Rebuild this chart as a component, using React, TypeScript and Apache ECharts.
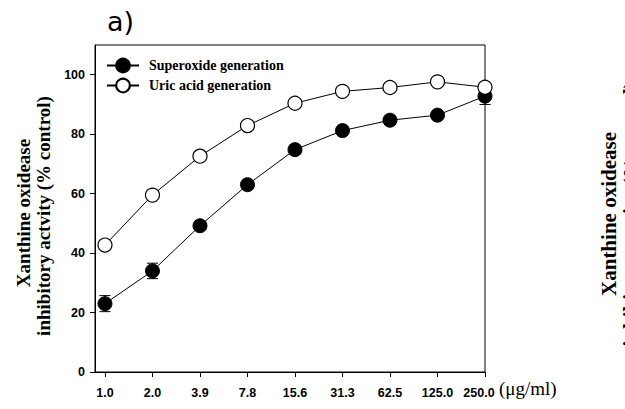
import React, { useEffect, useRef } from "react";
import * as echarts from "echarts";

const categories = ["1.0", "2.0", "3.9", "7.8", "15.6", "31.3", "62.5", "125.0", "250.0"];
const superoxide = [23.0, 34.0, 49.2, 63.0, 74.8, 81.2, 84.7, 86.4, 92.8];
const superoxideErr = [2.7, 2.6, 1.5, 1.5, 1.5, 1.5, 1.5, 1.5, 2.8];
const uricAcid = [42.7, 59.5, 72.6, 82.9, 90.4, 94.4, 95.7, 97.6, 95.8];
const yTicks = [0, 20, 40, 60, 80, 100];

export default function App() {
  const ref = useRef<HTMLDivElement>(null);
  useEffect(() => {
    if (!ref.current) return;
    const chart = echarts.init(ref.current, undefined, { renderer: "svg" });
    const idx = categories.map((_, i) => i);
    const last = categories.length - 1;
    const errData = idx.map((i) => [i, superoxide[i] - superoxideErr[i], superoxide[i] + superoxideErr[i]]);
    const serif = "'Liberation Serif', 'Times New Roman', serif";
    const sans = "'Liberation Sans', Arial, sans-serif";
    const labelFont = { fontFamily: sans, fontWeight: "bold", fontSize: 12.5, color: "#000" };
    chart.setOption({
      animation: false,
      backgroundColor: "#fff",
      grid: {
        left: 95,
        right: 140,
        top: 45,
        bottom: 37,
        show: true,
        borderColor: "#000",
        borderWidth: 1,
        containLabel: false,
      },
      legend: {
        orient: "vertical",
        left: 101,
        top: 52,
        itemWidth: 32,
        itemHeight: 17,
        itemGap: 3,
        data: ["Superoxide generation", "Uric acid generation"],
        textStyle: {
          fontFamily: serif,
          fontWeight: "bold",
          fontSize: 14,
          color: "#000",
          padding: [0, 0, 0, 5],
          lineHeight: 17,
        },
      },
      xAxis: {
        type: "value",
        min: -0.21,
        max: 8,
        splitLine: { show: false },
        axisLine: { show: true, onZero: false, lineStyle: { color: "#000", width: 1 } },
        axisTick: { show: true, length: 5, inside: false, customValues: idx, lineStyle: { color: "#000" } },
        axisLabel: {
          customValues: idx,
          showMaxLabel: true,
          formatter: (v: number) => {
            const i = Math.round(v);
            const t = categories[i] ?? "";
            return i === last ? `{r|${t}}` : t;
          },
          ...labelFont,
          margin: 14,
          rich: { r: { ...labelFont, padding: [0, 12, 0, 0] } },
        },
      },
      yAxis: {
        type: "value",
        min: 0,
        max: 110,
        splitLine: { show: false },
        axisLine: { show: true, onZero: false, lineStyle: { color: "#000", width: 1 } },
        axisTick: { show: true, length: 5, inside: false, customValues: yTicks, lineStyle: { color: "#000" } },
        axisLabel: {
          customValues: yTicks,
          ...labelFont,
          margin: 10,
        },
      },
      graphic: [
        {
          type: "text",
          left: 107,
          top: 8,
          style: { text: "a)", fontFamily: "'DejaVu Sans', sans-serif", fontSize: 27, fill: "#000" },
        },
        {
          type: "text",
          x: 23,
          y: 213,
          rotation: Math.PI / 2,
          style: {
            text: "Xanthine oxidease",
            fontFamily: serif,
            fontWeight: "bold",
            fontSize: 19,
            fill: "#000",
            align: "center",
            verticalAlign: "middle",
          },
        },
        {
          type: "text",
          x: 43,
          y: 216,
          rotation: Math.PI / 2,
          style: {
            text: "inhibitory actvity (% control)",
            fontFamily: serif,
            fontWeight: "bold",
            fontSize: 19,
            fill: "#000",
            align: "center",
            verticalAlign: "middle",
          },
        },
        {
          type: "text",
          left: 499,
          top: 379,
          style: { text: "(μg/ml)", fontFamily: serif, fontSize: 19, fill: "#000" },
        },
        {
          type: "text",
          x: 609,
          y: 214,
          rotation: Math.PI / 2,
          style: {
            text: "Xanthine oxidease",
            fontFamily: serif,
            fontWeight: "bold",
            fontSize: 21,
            fill: "#000",
            align: "center",
            verticalAlign: "middle",
          },
        },
        {
          type: "text",
          x: 631,
          y: 214,
          rotation: Math.PI / 2,
          style: {
            text: "inhibitory actvity (% control)",
            fontFamily: serif,
            fontWeight: "bold",
            fontSize: 21,
            fill: "#000",
            align: "center",
            verticalAlign: "middle",
          },
        },
      ],
      series: [
        {
          type: "custom",
          name: "err",
          data: errData,
          z: 1,
          renderItem: (_params: any, api: any) => {
            const x = api.value(0);
            const lo = api.coord([x, api.value(1)]);
            const hi = api.coord([x, api.value(2)]);
            const w = 5.5;
            const st = { stroke: "#000", lineWidth: 1 };
            return {
              type: "group",
              children: [
                { type: "line", shape: { x1: lo[0], y1: lo[1], x2: hi[0], y2: hi[1] }, style: st },
                { type: "line", shape: { x1: lo[0] - w, y1: lo[1], x2: lo[0] + w, y2: lo[1] }, style: st },
                { type: "line", shape: { x1: hi[0] - w, y1: hi[1], x2: hi[0] + w, y2: hi[1] }, style: st },
              ],
            };
          },
        },
        {
          type: "line",
          name: "Superoxide generation",
          data: idx.map((i) => [i, superoxide[i]]),
          symbol: "circle",
          symbolSize: 14,
          z: 2,
          lineStyle: { color: "#000", width: 1 },
          itemStyle: { color: "#000", borderColor: "#000", borderWidth: 1 },
        },
        {
          type: "line",
          name: "Uric acid generation",
          data: idx.map((i) => [i, uricAcid[i]]),
          symbol: "circle",
          symbolSize: 14,
          z: 3,
          lineStyle: { color: "#000", width: 1 },
          itemStyle: { color: "#fff", borderColor: "#000", borderWidth: 1.2 },
        },
      ],
    });
    return () => chart.dispose();
  }, []);
  return <div ref={ref} style={{ position: "fixed", left: 0, top: 0, width: 625, height: 409 }} />;
}
